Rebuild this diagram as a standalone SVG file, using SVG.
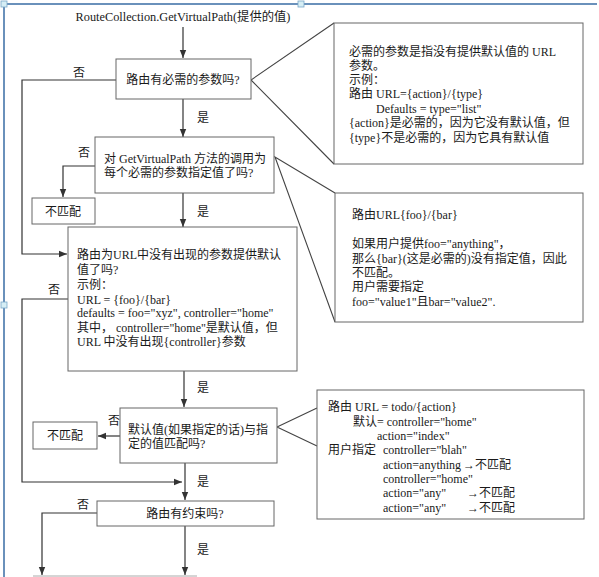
<svg xmlns="http://www.w3.org/2000/svg" width="599" height="577" viewBox="0 0 599 577">
<defs>
<marker id="ah" viewBox="0 0 10 10" refX="10" refY="5" markerWidth="8" markerHeight="8" markerUnits="userSpaceOnUse" orient="auto">
<path d="M0,1 L10,5 L0,9 z" fill="#333"/>
</marker>
<style>
text{font-family:"Liberation Serif","Noto Sans CJK SC",serif;font-size:12px;fill:#1a1a1a}
.box{fill:#fff;stroke:#666;stroke-width:1}
.con{fill:none;stroke:#333;stroke-width:1.2}
.arr{fill:none;stroke:#333;stroke-width:1.2;marker-end:url(#ah)}
.ptr{stroke:#444;stroke-width:1.1;fill:none}
.frame{stroke:#3a6ea5;stroke-width:1.5;fill:none}
.handle{fill:#d6eef5;stroke:#7aa7c7;stroke-width:0.8}
</style>
</defs>
<rect width="599" height="577" fill="#fff"/>
<g id="frame">
<path class="frame" d="M4,577 V4 H597"/>
<rect class="handle" x="1" y="1" width="6" height="6"/>
<rect class="handle" x="1" y="302" width="6" height="6"/>
<rect class="handle" x="298" y="1" width="6" height="6"/>
</g>
<g id="title"><text x="183" y="21" text-anchor="middle" style="font-size:12.3px">RouteCollection.GetVirtualPath(提供的值)</text></g>
<g id="connectors">
<path class="arr" d="M183,27 V58"/>
<path class="arr" d="M183,99 V137"/>
<path class="arr" d="M116,80 H22 V254 H67"/>
<path class="arr" d="M95,166 H63 V197"/>
<path class="arr" d="M183,193 V227"/>
<path class="arr" d="M68,299 H22 V482 H182"/>
<path class="arr" d="M184,371 V407"/>
<path class="arr" d="M120,436 H98"/>
<path class="arr" d="M185,463 V500"/>
<path class="arr" d="M97,513 H42 V575"/>
<path class="arr" d="M185,526 V575"/>
<path class="ptr" d="M334,23 L251,80 L334,164"/>
<path class="ptr" d="M335,193 L275,157 L335,322"/>
<path class="ptr" d="M317,408 L277,427 L317,446"/>
<text x="73" y="77">否</text>
<text x="197" y="122">是</text>
<text x="78" y="157">否</text>
<text x="197" y="216">是</text>
<text x="48" y="294">否</text>
<text x="197" y="392">是</text>
<text x="108" y="425">否</text>
<text x="197" y="486">是</text>
<text x="77" y="509">否</text>
<text x="197" y="554">是</text>
<line x1="33" y1="576" x2="197" y2="576" stroke="#aaa" stroke-width="1"/>
</g>
<g id="n1">
<rect class="box" x="116" y="59" width="135" height="40"/>
<text x="183" y="84" text-anchor="middle">路由有必需的参数吗?</text>
</g>
<g id="n2">
<rect class="box" x="95" y="137" width="179" height="56"/>
<text x="104" y="163">对 GetVirtualPath 方法的调用为</text>
<text x="104" y="177">每个必需的参数指定值了吗?</text>
</g>
<g id="nm1">
<rect class="box" x="32" y="198" width="63" height="26"/>
<text x="63" y="216" text-anchor="middle">不匹配</text>
</g>
<g id="n3">
<rect class="box" x="68" y="227" width="229" height="144"/>
<text x="77" y="259">路由为URL中没有出现的参数提供默认</text>
<text x="77" y="274">值了吗?</text>
<text x="77" y="289">示例：</text>
<text x="77" y="304">URL = {foo}/{bar}</text>
<text x="77" y="317">defaults = foo="xyz", controller="home"</text>
<text x="77" y="332">其中， controller="home"是默认值，但</text>
<text x="77" y="346">URL 中没有出现{controller}参数</text>
</g>
<g id="n4">
<rect class="box" x="120" y="408" width="157" height="55"/>
<text x="128" y="434">默认值(如果指定的话)与指</text>
<text x="128" y="448">定的值匹配吗?</text>
</g>
<g id="nm2">
<rect class="box" x="33" y="422" width="64" height="27"/>
<text x="65" y="440" text-anchor="middle">不匹配</text>
</g>
<g id="n5">
<rect class="box" x="97" y="501" width="177" height="25"/>
<text x="185" y="518" text-anchor="middle">路由有约束吗?</text>
</g>
<g id="c1">
<rect class="box" x="334" y="23" width="249" height="141"/>
<text x="349" y="56">必需的参数是指没有提供默认值的 URL</text>
<text x="349" y="70">参数。</text>
<text x="349" y="84">示例：</text>
<text x="349" y="98">路由 URL={action}/{type}</text>
<text x="376" y="113">Defaults = type="list"</text>
<text x="349" y="127">{action}是必需的，因为它没有默认值，但</text>
<text x="349" y="142">{type}不是必需的，因为它具有默认值</text>
</g>
<g id="c2">
<rect class="box" x="335" y="193" width="248" height="129"/>
<text x="352" y="219">路由URL{foo}/{bar}</text>
<text x="352" y="248">如果用户提供foo="anything"，</text>
<text x="352" y="263">那么{bar}(这是必需的)没有指定值，因此</text>
<text x="352" y="277">不匹配。</text>
<text x="352" y="291">用户需要指定</text>
<text x="352" y="306">foo="value1"且bar="value2".</text>
</g>
<g id="c3">
<rect class="box" x="317" y="390" width="267" height="129"/>
<text x="328" y="411">路由 URL = todo/{action}</text>
<text x="353" y="426">默认= controller="home"</text>
<text x="377" y="440">action="index"</text>
<text x="328" y="454">用户指定</text>
<text x="383" y="454">controller="blah"</text>
<text x="383" y="469">action=anything</text>
<text x="463" y="469">→不匹配</text>
<text x="383" y="483">controller="home"</text>
<text x="383" y="497">action="any"</text>
<text x="467" y="497">→不匹配</text>
<text x="383" y="512">action="any"</text>
<text x="467" y="512">→不匹配</text>
</g>
</svg>
